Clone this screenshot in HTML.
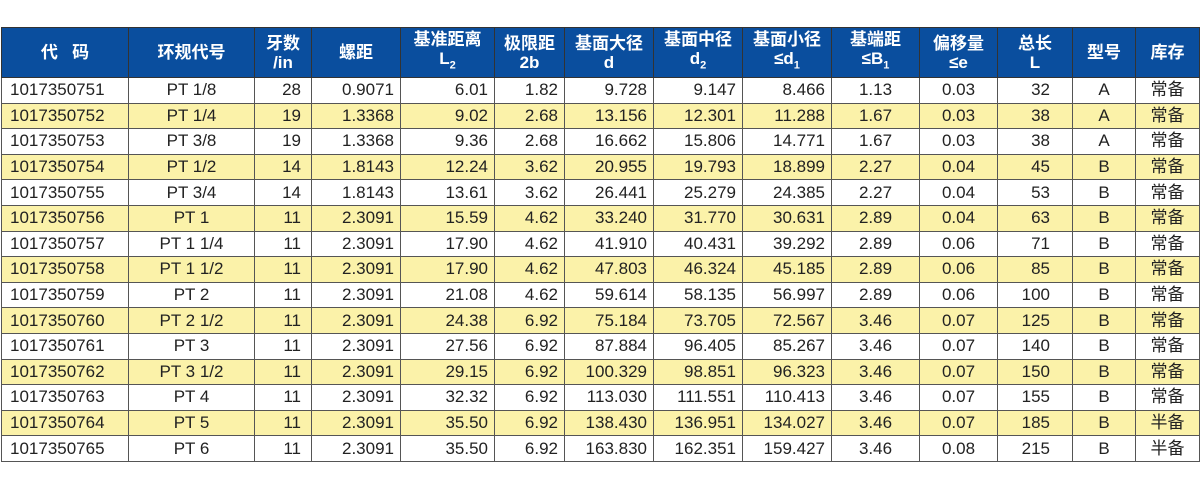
<!DOCTYPE html>
<html><head><meta charset="utf-8"><style>
body{margin:0;background:#fff;width:1200px;height:480px;overflow:hidden}
table{position:absolute;left:1px;top:27px;border-collapse:collapse;table-layout:fixed;font-family:"Liberation Sans","Noto Sans CJK SC",sans-serif;font-size:17px;color:#222}
td,th{border:1px solid #555;padding:0 6px;height:24.6px;white-space:nowrap;overflow:hidden}
th{background:#0a4e9e;color:#fff;font-weight:bold;height:49px;line-height:19px;font-size:17px;border-color:#333;text-align:center}
tr:nth-child(odd) td{background:#fbf2a9}
td{text-align:right;line-height:24px}
td:nth-child(1){text-align:left;padding-left:8px}
td:nth-child(2),td:nth-child(10),td:nth-child(11),td:nth-child(13),td:nth-child(14){text-align:center}
td:nth-child(3){padding-right:10px}
td:nth-child(12){padding-right:22px}
</style></head><body>
<table>
<colgroup><col style="width:127px"><col style="width:126px"><col style="width:57px"><col style="width:89px"><col style="width:94px"><col style="width:70px"><col style="width:89px"><col style="width:89px"><col style="width:89px"><col style="width:88px"><col style="width:78px"><col style="width:75px"><col style="width:63px"><col style="width:64px"></colgroup>
<tr><th>代&nbsp;&nbsp;&nbsp;码</th><th>环规代号</th><th>牙数<br>/in</th><th>螺距</th><th>基准距离<br>L<sub style="font-size:11px">2</sub></th><th>极限距<br>2b</th><th>基面大径<br>d</th><th>基面中径<br>d<sub style="font-size:11px">2</sub></th><th>基面小径<br>≤d<sub style="font-size:11px">1</sub></th><th>基端距<br>≤B<sub style="font-size:11px">1</sub></th><th>偏移量<br>≤e</th><th>总长<br>L</th><th>型号</th><th>库存</th></tr>
<tr><td>1017350751</td><td>PT 1/8</td><td>28</td><td>0.9071</td><td>6.01</td><td>1.82</td><td>9.728</td><td>9.147</td><td>8.466</td><td>1.13</td><td>0.03</td><td>32</td><td>A</td><td>常备</td></tr>
<tr><td>1017350752</td><td>PT 1/4</td><td>19</td><td>1.3368</td><td>9.02</td><td>2.68</td><td>13.156</td><td>12.301</td><td>11.288</td><td>1.67</td><td>0.03</td><td>38</td><td>A</td><td>常备</td></tr>
<tr><td>1017350753</td><td>PT 3/8</td><td>19</td><td>1.3368</td><td>9.36</td><td>2.68</td><td>16.662</td><td>15.806</td><td>14.771</td><td>1.67</td><td>0.03</td><td>38</td><td>A</td><td>常备</td></tr>
<tr><td>1017350754</td><td>PT 1/2</td><td>14</td><td>1.8143</td><td>12.24</td><td>3.62</td><td>20.955</td><td>19.793</td><td>18.899</td><td>2.27</td><td>0.04</td><td>45</td><td>B</td><td>常备</td></tr>
<tr><td>1017350755</td><td>PT 3/4</td><td>14</td><td>1.8143</td><td>13.61</td><td>3.62</td><td>26.441</td><td>25.279</td><td>24.385</td><td>2.27</td><td>0.04</td><td>53</td><td>B</td><td>常备</td></tr>
<tr><td>1017350756</td><td>PT 1</td><td>11</td><td>2.3091</td><td>15.59</td><td>4.62</td><td>33.240</td><td>31.770</td><td>30.631</td><td>2.89</td><td>0.04</td><td>63</td><td>B</td><td>常备</td></tr>
<tr><td>1017350757</td><td>PT 1 1/4</td><td>11</td><td>2.3091</td><td>17.90</td><td>4.62</td><td>41.910</td><td>40.431</td><td>39.292</td><td>2.89</td><td>0.06</td><td>71</td><td>B</td><td>常备</td></tr>
<tr><td>1017350758</td><td>PT 1 1/2</td><td>11</td><td>2.3091</td><td>17.90</td><td>4.62</td><td>47.803</td><td>46.324</td><td>45.185</td><td>2.89</td><td>0.06</td><td>85</td><td>B</td><td>常备</td></tr>
<tr><td>1017350759</td><td>PT 2</td><td>11</td><td>2.3091</td><td>21.08</td><td>4.62</td><td>59.614</td><td>58.135</td><td>56.997</td><td>2.89</td><td>0.06</td><td>100</td><td>B</td><td>常备</td></tr>
<tr><td>1017350760</td><td>PT 2 1/2</td><td>11</td><td>2.3091</td><td>24.38</td><td>6.92</td><td>75.184</td><td>73.705</td><td>72.567</td><td>3.46</td><td>0.07</td><td>125</td><td>B</td><td>常备</td></tr>
<tr><td>1017350761</td><td>PT 3</td><td>11</td><td>2.3091</td><td>27.56</td><td>6.92</td><td>87.884</td><td>96.405</td><td>85.267</td><td>3.46</td><td>0.07</td><td>140</td><td>B</td><td>常备</td></tr>
<tr><td>1017350762</td><td>PT 3 1/2</td><td>11</td><td>2.3091</td><td>29.15</td><td>6.92</td><td>100.329</td><td>98.851</td><td>96.323</td><td>3.46</td><td>0.07</td><td>150</td><td>B</td><td>常备</td></tr>
<tr><td>1017350763</td><td>PT 4</td><td>11</td><td>2.3091</td><td>32.32</td><td>6.92</td><td>113.030</td><td>111.551</td><td>110.413</td><td>3.46</td><td>0.07</td><td>155</td><td>B</td><td>常备</td></tr>
<tr><td>1017350764</td><td>PT 5</td><td>11</td><td>2.3091</td><td>35.50</td><td>6.92</td><td>138.430</td><td>136.951</td><td>134.027</td><td>3.46</td><td>0.07</td><td>185</td><td>B</td><td>半备</td></tr>
<tr><td>1017350765</td><td>PT 6</td><td>11</td><td>2.3091</td><td>35.50</td><td>6.92</td><td>163.830</td><td>162.351</td><td>159.427</td><td>3.46</td><td>0.08</td><td>215</td><td>B</td><td>半备</td></tr>
</table>
</body></html>
